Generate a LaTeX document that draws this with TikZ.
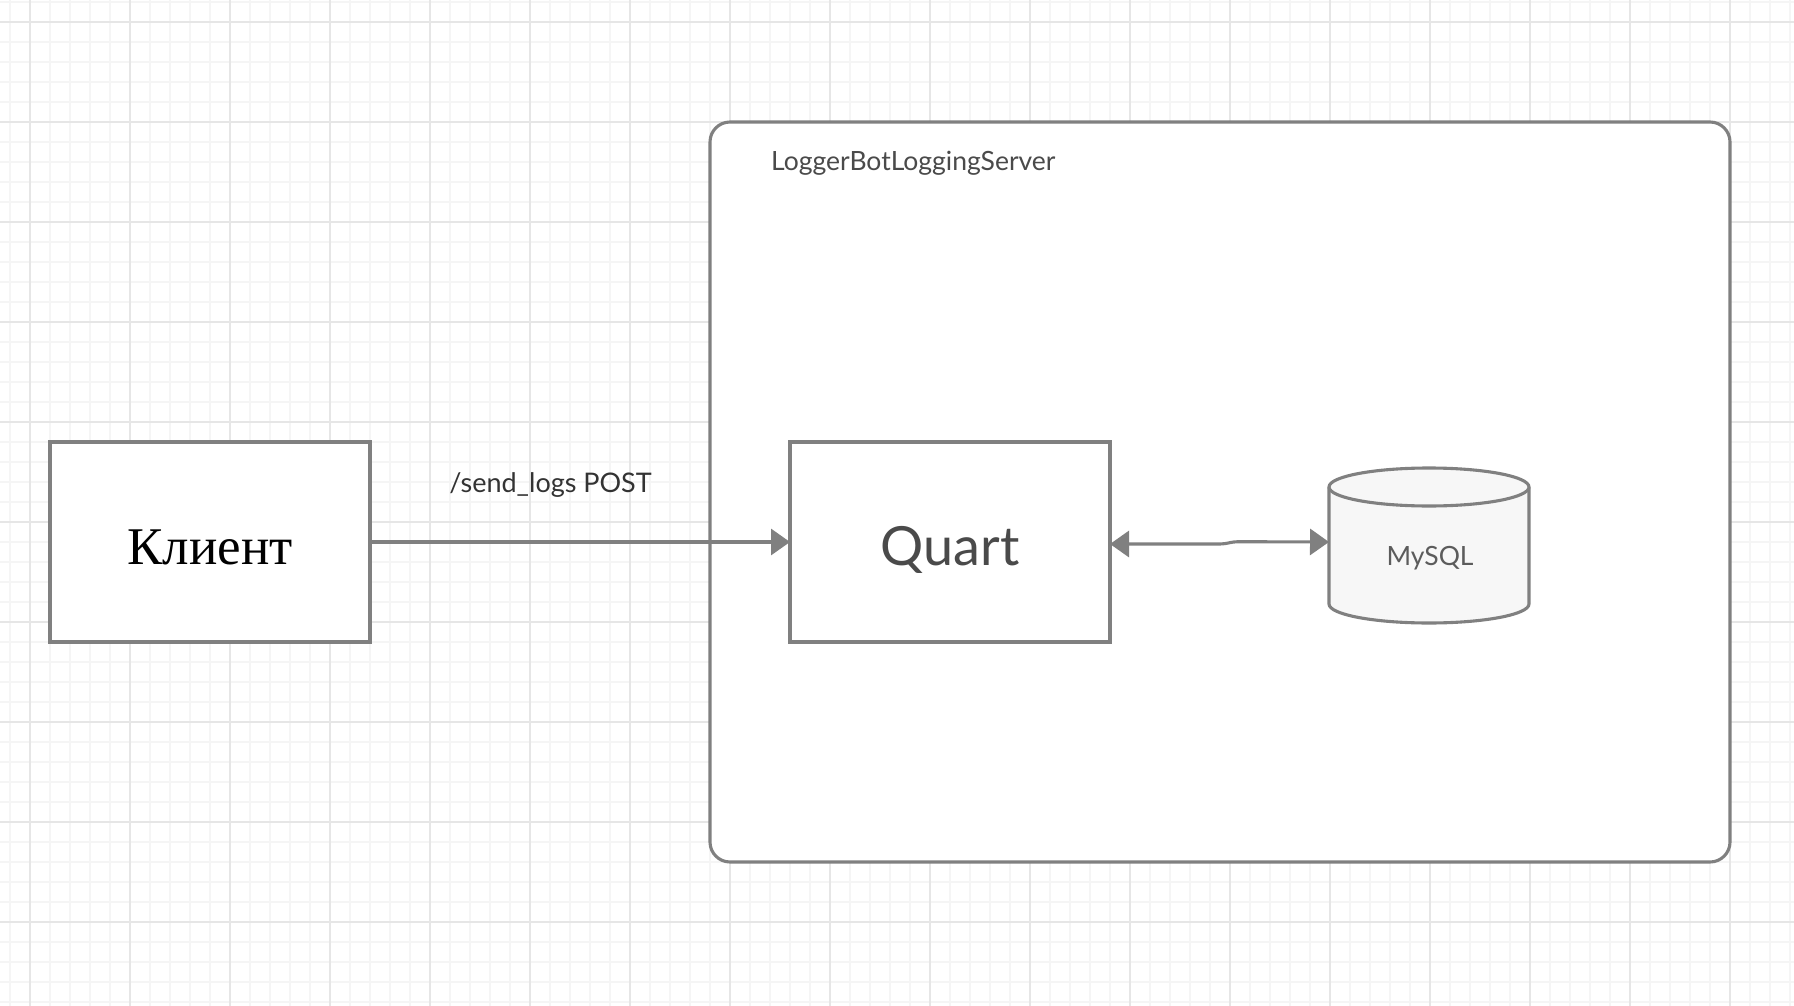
\documentclass[tikz,border=0pt]{standalone}
\usepackage{fontspec}
\newfontfamily\latofont{Lato}
\newfontfamily\rufont{Liberation Serif}
\usetikzlibrary{positioning,arrows.meta}
\definecolor{edgegray}{HTML}{808080}
\definecolor{textgray}{HTML}{4A4A4A}
\definecolor{majorgrid}{HTML}{E6E6E6}
\definecolor{minorgrid}{HTML}{F5F5F5}
\definecolor{dbfill}{HTML}{F7F7F7}
\tikzset{
	gridminor/.style={color=minorgrid, line width=1.1pt},
	gridmajor/.style={color=majorgrid, line width=1.6pt},
	server/.style={rectangle, rounded corners=20pt, draw=edgegray, line width=3.1pt, fill=white, minimum width=1020pt, minimum height=740pt, outer sep=0},
	box/.style={rectangle, draw=edgegray, line width=3.1pt, fill=white, minimum width=320pt, minimum height=200pt, inner sep=0, outer sep=0},
	dbbox/.style={rectangle, minimum width=200pt, minimum height=155pt, inner sep=0, outer sep=0},
	dbline/.style={draw=edgegray, line width=3.1pt, fill=dbfill},
	flow/.style={-{Triangle[length=19pt,width=26pt]}, color=edgegray, line width=3.1pt},
	biflow/.style={{Triangle[length=19pt,width=26pt]}-{Triangle[length=19pt,width=26pt]}, color=edgegray, line width=3.1pt},
	lbl/.style={font=\latofont\fontsize{26.5}{32}\selectfont, text=textgray, inner sep=0}
}

\begin{document}
\begin{tikzpicture}[x=1pt, y=-1pt]
	\useasboundingbox (0,0) rectangle (1794,1006);
	
	% background grid
	\foreach \gx in {10,30,...,1790} \draw[gridminor] (\gx,0) -- (\gx,1006);
	\foreach \gy in {2,22,...,1002} \draw[gridminor] (0,\gy) -- (1794,\gy);
	\foreach \gx in {30,130,...,1730} \draw[gridmajor] (\gx,0) -- (\gx,1006);
	\foreach \gy in {22,122,...,922} \draw[gridmajor] (0,\gy) -- (1794,\gy);
	
	\node [server] (srv) at (1220, 492) {};
	\node [lbl, anchor=base west] (srvname) at (771, 170.7) {LoggerBotLoggingServer};
	
	\node [box, font=\rufont\fontsize{53}{60}\selectfont, text height=44pt, text depth=0pt] (client) at (210, 542) {Клиент};
	\node [box, right=420pt of client, font=\latofont\fontsize{54}{62}\selectfont, text=textgray, text height=46pt, text depth=0pt] (quart) {Quart};
	\node [dbbox, right=219pt of quart] (db) {};
	
	% cylinder
	\filldraw [dbline] (1329,487) -- (1329,604) arc[start angle=180, end angle=0, x radius=100, y radius=19]
		-- (1529,487) arc[start angle=0, end angle=-180, x radius=100, y radius=19] -- cycle;
	\draw [dbline] (1329,487) arc[start angle=180, end angle=0, x radius=100, y radius=19];
	\node [lbl, anchor=base, text=textgray!90] (dbname) at (1430, 565) {MySQL};
	
	\draw [flow] (client) -- node[lbl, pos=0.43, anchor=base, yshift=50pt, font=\latofont\fontsize{27}{32}\selectfont, text=black!80] {/send\_logs POST} (quart);
	\draw [biflow] ([yshift=-2pt]quart.east) -- ++(110,0) to[out=0, in=180] ++(18,-2.3) -- (db.west);
	
\end{tikzpicture}
\end{document}
